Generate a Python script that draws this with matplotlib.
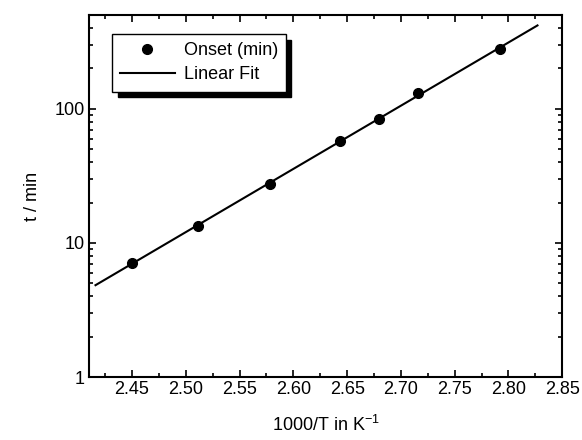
import numpy as np
import matplotlib.pyplot as plt
from matplotlib.ticker import MultipleLocator, LogLocator, NullFormatter, FixedLocator, FixedFormatter

plt.rcParams['font.family'] = ['Liberation Sans', 'DejaVu Sans']

# data
inv_T = [2.450, 2.511, 2.578, 2.643, 2.680, 2.716, 2.792]
onset = [7.1, 13.4, 27.5, 57, 84, 131, 280]
fit_x = np.array([2.416, 2.827])

# linear fit of log10(t) vs 1000/T
p = np.polyfit(inv_T, np.log10(onset), 1)
fit_y = 10 ** np.polyval(p, fit_x)

fig = plt.figure(figsize=(5.82, 4.4), dpi=100)
ax = fig.add_axes([0.153, 0.143, 0.813, 0.823])

ax.plot(inv_T, onset, 'o', color='black', markersize=7, label='Onset (min)')
ax.plot(fit_x, fit_y, '-', color='black', linewidth=1.5, label='Linear Fit')

ax.set_yscale('log')
ax.set_xlim(2.41, 2.85)
ax.set_ylim(1, 500)

ax.xaxis.set_major_locator(MultipleLocator(0.05))
ax.xaxis.set_minor_locator(MultipleLocator(0.025))
ax.xaxis.set_major_formatter(plt.FuncFormatter(lambda v, pos: '%.2f' % v if v >= 2.44 else ''))
ax.yaxis.set_major_locator(FixedLocator([1, 10, 100]))
ax.yaxis.set_major_formatter(FixedFormatter(['1', '10', '100']))
ax.yaxis.set_minor_locator(LogLocator(base=10, subs=np.arange(2, 10)))
ax.yaxis.set_minor_formatter(NullFormatter())

ax.tick_params(which='both', direction='in', top=True, right=True, labelsize=13, width=1.2)
ax.tick_params(which='major', length=5, pad=3)
ax.tick_params(which='minor', length=3)
for s in ax.spines.values():
    s.set_linewidth(1.5)

ax.set_xlabel('1000/T in K$^{\\mathregular{-1}}$', fontsize=13, labelpad=12)
ax.set_ylabel('t / min', fontsize=13, labelpad=10)

leg = ax.legend(loc='upper left', bbox_to_anchor=(0.049, 0.947), fontsize=13,
                frameon=True, fancybox=False, edgecolor='black', framealpha=1,
                shadow={'color': 'black', 'alpha': 1, 'ox': 4, 'oy': -4},
                handlelength=3.0, handletextpad=0.5, borderpad=0.45, labelspacing=0.4,
                borderaxespad=0.0)
leg.get_frame().set_linewidth(1.0)

fig.savefig('out.png', dpi=100)
